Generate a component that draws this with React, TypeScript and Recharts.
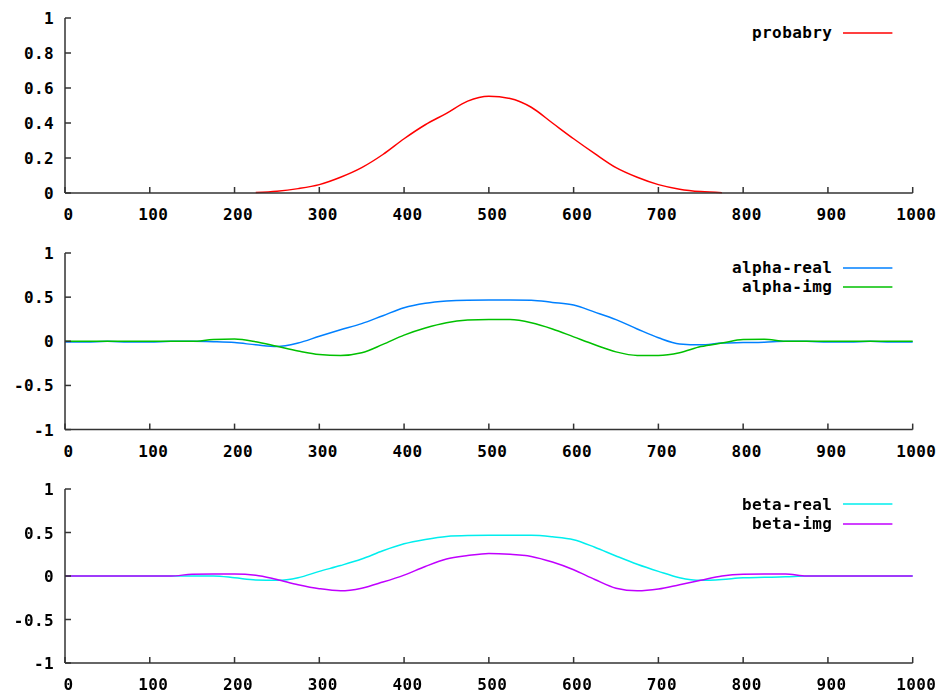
import React from 'react';
import { LineChart, Line, XAxis, YAxis } from 'recharts';

const xValues = [
  0, 25, 50, 75, 100, 125, 150, 175, 200, 225, 250, 275, 300, 325, 350, 375, 400, 425, 450, 475, 500,
  525, 550, 575, 600, 625, 650, 675, 700, 725, 750, 775, 800, 825, 850, 875, 900, 925, 950, 975, 1000,
];

const probabry = [
  null, null, null, null, null, null, null, null, null, 0.003, 0.01, 0.025, 0.048, 0.09, 0.145, 0.22, 0.31, 0.39, 0.455, 0.525, 0.553,
  0.54, 0.49, 0.4, 0.31, 0.225, 0.145, 0.09, 0.048, 0.022, 0.008, 0.002, null, null, null, null, null, null, null, null, null,
];

const alphaReal = [
  -0.008, -0.008, 0, -0.008, -0.008, 0, 0, -0.005, -0.015, -0.04, -0.06, -0.02, 0.057, 0.13, 0.2, 0.29, 0.38, 0.43, 0.456, 0.466, 0.468,
  0.468, 0.466, 0.44, 0.41, 0.33, 0.245, 0.14, 0.04, -0.03, -0.04, -0.02, -0.015, -0.01, 0, 0, -0.008, -0.008, 0, -0.008, -0.008,
];

const alphaImg = [
  0, 0, 0, 0, 0, 0, 0, 0.02, 0.025, -0.005, -0.057, -0.11, -0.15, -0.16, -0.13, -0.035, 0.07, 0.15, 0.21, 0.24, 0.248,
  0.246, 0.21, 0.14, 0.05, -0.04, -0.12, -0.16, -0.16, -0.13, -0.06, -0.02, 0.02, 0.023, 0, 0, 0, 0, 0, 0, 0,
];

const betaReal = [
  0, 0, 0, 0, 0, 0, 0, 0, -0.02, -0.045, -0.05, -0.02, 0.053, 0.12, 0.195, 0.29, 0.37, 0.42, 0.455, 0.465, 0.467,
  0.467, 0.467, 0.45, 0.417, 0.33, 0.23, 0.135, 0.053, -0.02, -0.05, -0.04, -0.02, -0.015, -0.01, 0, 0, 0, 0, 0, 0,
];

const betaImg = [
  0, 0, 0, 0, 0, 0, 0.02, 0.023, 0.023, 0.01, -0.04, -0.1, -0.146, -0.17, -0.14, -0.07, 0.01, 0.11, 0.195, 0.235, 0.26,
  0.25, 0.225, 0.16, 0.072, -0.04, -0.14, -0.17, -0.15, -0.1, -0.05, 0, 0.02, 0.023, 0.023, 0, 0, 0, 0, 0, 0,
];

const xTicks = [0, 100, 200, 300, 400, 500, 600, 700, 800, 900, 1000];
const probTicks = [0, 0.2, 0.4, 0.6, 0.8, 1];
const ampTicks = [-1, -0.5, 0, 0.5, 1];

const data = xValues.map((x, i) => ({
  x,
  probabry: probabry[i],
  alphaReal: alphaReal[i],
  alphaImg: alphaImg[i],
  betaReal: betaReal[i],
  betaImg: betaImg[i],
}));

const FONT = "'DejaVu Sans Mono', 'Liberation Mono', monospace";
const FRAME = '#333';
const TICK_LEN = 6;

const labelStyle: React.CSSProperties = {
  fontFamily: FONT,
  fontWeight: 'bold',
  fontSize: 16,
  letterSpacing: 0.4,
};

const BottomTick = ({ x, y, payload }: any) => (
  <g>
    <line x1={x} x2={x} y1={y} y2={y - TICK_LEN} stroke={FRAME} strokeWidth={1.5} />
    <text x={x + 3.5} y={y + 27} textAnchor="middle" fill="#000" style={labelStyle}>
      {payload.value}
    </text>
  </g>
);

const TopTick = ({ x, y }: any) => (
  <line x1={x} x2={x} y1={y} y2={y + TICK_LEN} stroke={FRAME} strokeWidth={1.5} />
);

const LeftTick = ({ x, y, payload }: any) => (
  <g>
    <line x1={x} x2={x + TICK_LEN} y1={y} y2={y} stroke={FRAME} strokeWidth={1.5} />
    <text x={x - 11} y={y + 6} textAnchor="end" fill="#000" style={labelStyle}>
      {payload.value}
    </text>
  </g>
);

const RightTick = ({ x, y }: any) => (
  <line x1={x} x2={x - TICK_LEN} y1={y} y2={y} stroke={FRAME} strokeWidth={1.5} />
);

interface Series {
  key: string;
  name: string;
  color: string;
}

interface PanelProps {
  plotTop: number;
  plotBottom: number;
  yDomain: [number, number];
  yTicks: number[];
  series: Series[];
}

// each panel: 10px above the frame, 40px axis + 10px margin below it
const Panel: React.FC<PanelProps> = ({ plotTop, plotBottom, yDomain, yTicks, series }) => {
  const top = plotTop - 10;
  const height = plotBottom - plotTop + 60;
  return (
    <div style={{ position: 'absolute', left: 0, top, width: 938, height }}>
      <LineChart width={938} height={height} data={data} margin={{ top: 10, right: 25.3, bottom: 10, left: 0 }}>
        <XAxis
          xAxisId="b"
          dataKey="x"
          type="number"
          domain={[0, 1000]}
          ticks={xTicks}
          interval={0}
          height={40}
          tickSize={0}
          tickMargin={0}
          tickLine={false}
          axisLine={{ stroke: FRAME, strokeWidth: 1.5 }}
          tick={<BottomTick />}
        />
        <XAxis
          xAxisId="t"
          dataKey="x"
          type="number"
          orientation="top"
          domain={[0, 1000]}
          ticks={xTicks}
          interval={0}
          height={0}
          tickSize={0}
          tickMargin={0}
          tickLine={false}
          axisLine={{ stroke: FRAME, strokeWidth: 1.5 }}
          tick={<TopTick />}
        />
        <YAxis
          yAxisId="l"
          type="number"
          domain={yDomain}
          ticks={yTicks}
          interval={0}
          width={65}
          tickSize={0}
          tickMargin={0}
          tickLine={false}
          axisLine={{ stroke: FRAME, strokeWidth: 1.5 }}
          tick={<LeftTick />}
        />
        <YAxis
          yAxisId="r"
          type="number"
          orientation="right"
          domain={yDomain}
          ticks={yTicks}
          interval={0}
          width={0}
          tickSize={0}
          tickMargin={0}
          tickLine={false}
          axisLine={{ stroke: FRAME, strokeWidth: 1.5 }}
          tick={<RightTick />}
        />
        {series.map((s) => (
          <Line
            key={s.key}
            xAxisId="b"
            yAxisId="l"
            type="monotone"
            dataKey={s.key}
            name={s.name}
            stroke={s.color}
            strokeWidth={1.5}
            dot={false}
            activeDot={false}
            connectNulls={false}
            isAnimationActive={false}
          />
        ))}
      </LineChart>
      <div style={{ position: 'absolute', top: 15.35, right: 45.3 }}>
        {series.map((s) => (
          <div
            key={s.key}
            style={{ display: 'flex', alignItems: 'center', justifyContent: 'flex-end', height: 19.3 }}
          >
            <span style={{ ...labelStyle, color: '#000', lineHeight: '19px' }}>{s.name}</span>
            <svg width={49.4} height={4} style={{ marginLeft: 11, display: 'block' }}>
              <line x1={0} x2={49.4} y1={2} y2={2} stroke={s.color} strokeWidth={1.5} />
            </svg>
          </div>
        ))}
      </div>
    </div>
  );
};

export default function App() {
  return (
    <div style={{ position: 'fixed', left: 0, top: 0, width: 938, height: 693, background: '#fff' }}>
      <Panel
        plotTop={17.7}
        plotBottom={192.7}
        yDomain={[0, 1]}
        yTicks={probTicks}
        series={[{ key: 'probabry', name: 'probabry', color: '#ff0000' }]}
      />
      <Panel
        plotTop={252.7}
        plotBottom={429.3}
        yDomain={[-1, 1]}
        yTicks={ampTicks}
        series={[
          { key: 'alphaReal', name: 'alpha-real', color: '#0080ff' },
          { key: 'alphaImg', name: 'alpha-img', color: '#00c000' },
        ]}
      />
      <Panel
        plotTop={489.3}
        plotBottom={663.3}
        yDomain={[-1, 1]}
        yTicks={ampTicks}
        series={[
          { key: 'betaReal', name: 'beta-real', color: '#00eeee' },
          { key: 'betaImg', name: 'beta-img', color: '#c000ff' },
        ]}
      />
    </div>
  );
}
